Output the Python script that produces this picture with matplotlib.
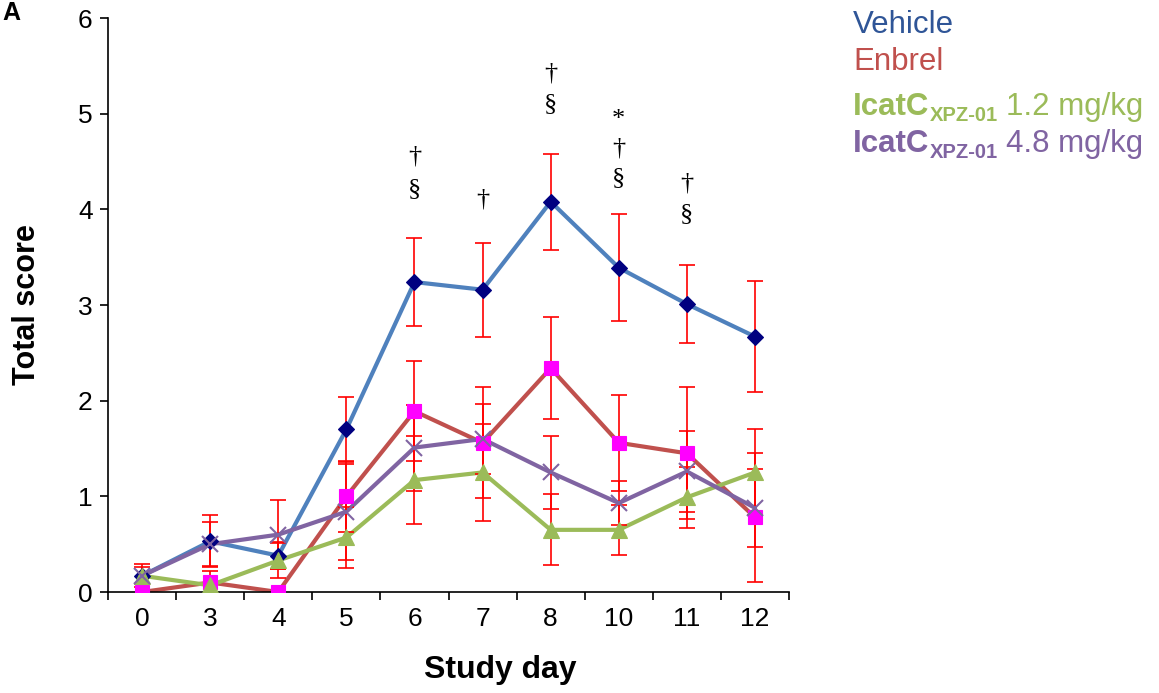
import matplotlib
matplotlib.use("Agg")
import matplotlib.pyplot as plt
import numpy as np

plt.rcParams['font.family'] = ['Liberation Sans', 'DejaVu Sans']

# ---- data ----
days = ["0", "3", "4", "5", "6", "7", "8", "10", "11", "12"]
vehicle = [0.17, 0.53, 0.38, 1.70, 3.24, 3.16, 4.08, 3.39, 3.01, 2.67]
vehicle_err = [0.12, 0.27, 0.14, 0.34, 0.46, 0.49, 0.50, 0.56, 0.41, 0.58]
enbrel = [0.0, 0.10, 0.0, 1.00, 1.89, 1.56, 2.34, 1.56, 1.45, 0.78]
enbrel_err = [0.0, 0.12, 0.0, 0.37, 0.52, 0.58, 0.53, 0.50, 0.69, 0.67]
icat12 = [0.17, 0.07, 0.33, 0.57, 1.17, 1.25, 0.65, 0.65, 0.99, 1.25]
icat12_err = [0.0, 0.0, 0.18, 0.32, 0.46, 0.51, 0.37, 0.26, 0.32, 0.45]
icat48 = [0.17, 0.50, 0.60, 0.84, 1.51, 1.60, 1.25, 0.93, 1.26, 0.88]
icat48_err = [0.09, 0.23, 0.36, 0.50, 0.45, 0.37, 0.38, 0.23, 0.42, 0.41]

# significance annotations: (day index, symbol, y position)
annot_idx = [4, 4, 5, 6, 6, 7, 7, 7, 8, 8]
annot_sym = ["†", "§", "†", "†", "§", "*", "†", "§", "†", "§"]
annot_y = [4.55, 4.21, 4.10, 5.42, 5.10, 4.93, 4.64, 4.33, 4.27, 3.95]

fig = plt.figure(figsize=(11.59, 6.93), dpi=100)
ax = fig.add_axes([0.0932, 0.1457, 0.5876, 0.8283])

x = np.arange(len(days))
series = [
    (vehicle, vehicle_err, '#4F81BD', 'D', '#000080', 8.5),
    (enbrel, enbrel_err, '#C0504D', 's', '#FF00FF', 10),
    (icat12, icat12_err, '#9BBB59', '^', '#9BBB59', 12),
    (icat48, icat48_err, '#8064A2', 'x', '#8064A2', 12),
]
for vals, err, lc, mk, mc, ms in series:
    ax.plot(x, vals, color=lc, lw=3.0, zorder=2, solid_capstyle='round')
for vals, err, lc, mk, mc, ms in series:
    e = np.array(err)
    mask = e > 0
    ax.errorbar(x[mask], np.array(vals)[mask], yerr=e[mask], fmt='none',
                ecolor='#FF0000', elinewidth=1.2, capsize=6, capthick=1.2, zorder=3)
for vals, err, lc, mk, mc, ms in series:
    ax.plot(x, vals, linestyle='none', marker=mk, color=mc, markersize=ms,
            markeredgewidth=1.5 if mk == 'x' else 0.8, zorder=4)

for i, s, yv in zip(annot_idx, annot_sym, annot_y):
    ax.text(i, yv, s, ha='center', va='center', fontsize=19,
            family=['Liberation Serif', 'DejaVu Serif'], color='black')

ax.set_xlim(-0.5, len(days) - 0.5)
ax.set_ylim(0, 6)
ax.set_yticks(range(0, 7))
ax.tick_params(axis='y', labelsize=19, length=6, width=1.2, direction='out', pad=5)
ax.set_xticks(np.arange(-0.5, len(days), 1.0))
ax.set_xticklabels([])
ax.set_xticks(x, minor=True)
ax.set_xticklabels(days, minor=True)
ax.tick_params(axis='x', which='major', length=6, width=1.2, direction='out')
ax.tick_params(axis='x', which='minor', length=0, labelsize=19, pad=11)
for sp in ['top', 'right']:
    ax.spines[sp].set_visible(False)
for sp in ['left', 'bottom']:
    ax.spines[sp].set_linewidth(1.2)

W, H = fig.get_size_inches() * fig.dpi
ax.set_ylabel('Total score', fontsize=22, fontweight='bold', labelpad=26)
ax.set_xlabel('Study day', fontsize=23, fontweight='bold')
ax.xaxis.set_label_coords((500 - 108) / (789 - 108), -(670 - 592) / (592 - 18))
ax.xaxis.label.set_va('center')

fig.text(0.002, 0.998, 'A', fontsize=18, fontweight='bold', ha='left', va='top')

# ---- legend text ----
lx = 853 / W
fs = 22.5
fig.text(lx, 1 - 33 / H, 'Vehicle', color='#2F5597', fontsize=fs, va='baseline')
fig.text(lx, 1 - 70 / H, 'Enbrel', color='#C0504D', fontsize=fs, va='baseline')

renderer = fig.canvas.get_renderer()
for base, dose, col in [(115, '1.2 mg/kg', '#9BBB59'), (152, '4.8 mg/kg', '#8064A2')]:
    yb = 1 - base / H
    t1 = fig.text(lx, yb, 'IcatC', color=col, fontsize=fs, fontweight='bold', va='baseline')
    bb = t1.get_window_extent(renderer)
    t2 = fig.text(bb.x1 / W, yb - 6 / H, 'XPZ-01', color=col, fontsize=14.5,
                  fontweight='bold', va='baseline')
    bb2 = t2.get_window_extent(renderer)
    fig.text(bb2.x1 / W + 8 / W, yb, dose, color=col, fontsize=fs, va='baseline')

fig.savefig('out.png', dpi=100)
